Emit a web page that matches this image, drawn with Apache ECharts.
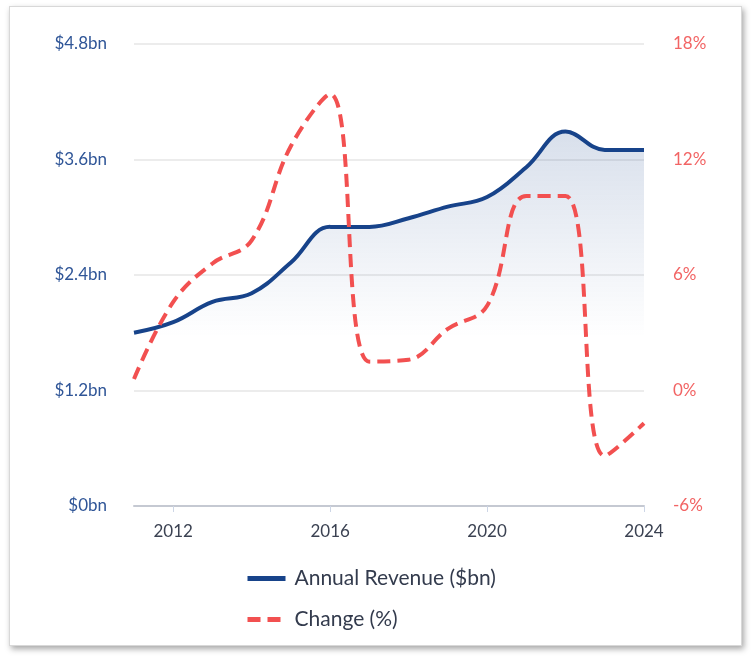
<!DOCTYPE html>
<html><head><meta charset="utf-8">
<script src="https://cdn.jsdelivr.net/npm/echarts@6/dist/echarts.min.js"></script>
<style>
html,body{margin:0;padding:0;background:#fff;}
#card{position:absolute;left:9px;top:6px;width:731px;height:638px;background:#fff;border:1px solid #d8d8d8;box-shadow:2px 3px 6px rgba(0,0,0,0.35);}
#chart{position:absolute;left:0;top:0;width:751px;height:658px;}
</style></head>
<body>
<div id="card"></div>
<div id="chart"></div>
<script>
const years = ['2011','2012','2013','2014','2015','2016','2017','2018','2019','2020','2021','2022','2023','2024'];
const revenue = [1.80,1.91,2.12,2.21,2.53,2.90,2.90,2.99,3.11,3.21,3.52,3.89,3.70,3.70];
const change = [0.6,4.6,6.6,7.8,12.7,15.4,1.5,1.6,3.2,4.4,10.1,10.1,-3.4,-1.7];
const leftTicks = ['$0bn','$1.2bn','$2.4bn','$3.6bn','$4.8bn'];
const rightTicks = ['-6%','0%','6%','12%','18%'];

const font = 'Lato, "Open Sans", sans-serif';
const chart = echarts.init(document.getElementById('chart'));
chart.setOption({
  animation:false,
  grid:{left:134,right:107,top:44,bottom:152},
  legend:{
    orient:'vertical',left:245,top:568,padding:0,itemGap:20,itemWidth:38,itemHeight:24,
    itemStyle:{opacity:0},
    lineStyle:{width:5},
    textStyle:{fontFamily:font,fontSize:21,color:'#333b4d',padding:[0,0,0,4]},
    data:['Annual Revenue ($bn)','Change (%)']
  },
  xAxis:{
    type:'category',data:years,boundaryGap:false,
    axisLine:{lineStyle:{color:'#c5c9d2',width:2}},
    axisTick:{show:true,length:6,lineStyle:{color:'#cdd6e6'},interval:(i,v)=>Number(v)%4===0},
    axisLabel:{interval:(i,v)=>Number(v)%4===0,fontFamily:font,fontSize:17,color:'#3b4252',margin:17},
    splitLine:{show:false}
  },
  yAxis:[
    {type:'value',min:0,max:4.8,interval:1.2,
     axisLine:{show:false},axisTick:{show:false},
     axisLabel:{fontFamily:font,fontSize:17,color:'#2f5597',margin:27,formatter:(v)=>leftTicks[Math.round(v/1.2)]},
     splitLine:{lineStyle:{color:'#e6e6e6',width:1.5}}},
    {type:'value',min:-6,max:18,interval:6,
     axisLine:{show:false},axisTick:{show:false},
     axisLabel:{fontFamily:font,fontSize:17,color:'#f26464',margin:29,formatter:(v)=>rightTicks[Math.round((v+6)/6)]},
     splitLine:{show:false}}
  ],
  series:[
    {name:'Annual Revenue ($bn)',type:'line',yAxisIndex:0,data:revenue,smooth:0.4,symbol:'none',
     lineStyle:{color:'#17438a',width:4},itemStyle:{color:'#17438a'},
     areaStyle:{color:new echarts.graphic.LinearGradient(0,0,0,1,[
       {offset:0,color:'rgba(23,67,138,0.24)'},
       {offset:0.55,color:'rgba(23,67,138,0.0)'},
       {offset:1,color:'rgba(23,67,138,0.0)'}])},
     z:2},
    {name:'Change (%)',type:'line',yAxisIndex:1,data:change,smooth:0.4,symbol:'none',
     lineStyle:{color:'#f25050',width:4,type:[13,7]},itemStyle:{color:'#f25050'},
     z:3}
  ]
});
</script>
</body></html>
